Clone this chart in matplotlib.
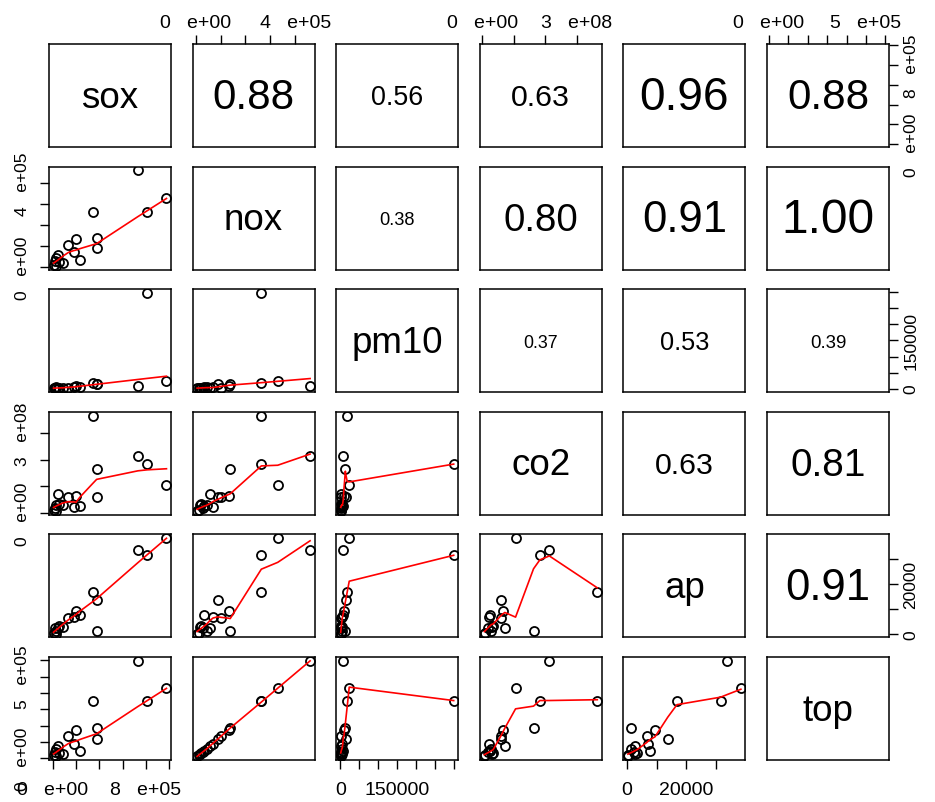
import numpy as np
import matplotlib
matplotlib.use('Agg')
import matplotlib.pyplot as plt

plt.rcParams['font.family'] = ['Liberation Sans', 'DejaVu Sans']

names = ['sox', 'nox', 'pm10', 'co2', 'ap', 'top']

sox = [730000, 975000, 810000, 342000, 377000, 377000, 200000, 135000, 180000, 233000, 92000, 43000,
       8000, 20000, 25000, 30000, 55000]
nox = [460000, 330000, 264000, 264000, 139000, 89000, 133000, 103000, 70000, 35000, 19000, 59000,
       12000, 30000, 45000, 6000, 22000]
pm10 = [7500, 23000, 298000, 17700, 12800, 13500, 9000, 2500, 4000, 5500, 3000, 1200,
        800, 1500, 3500, 600, 2500]
co2 = [2.13e8, 1.06e8, 1.83e8, 3.65e8, 1.63e8, 0.59e8, 0.65e8, 0.60e8, 0.21e8, 0.25e8, 0.30e8, 0.72e8,
       0.09e8, 0.18e8, 0.28e8, 0.07e8, 0.35e8]
ap = [33500, 38300, 31500, 16800, 1200, 13700, 9400, 6700, 6900, 7600, 2800, 2700,
      400, 2500, 1500, 300, 3400]
top = [596000, 428000, 353000, 353000, 186000, 120000, 176000, 135000, 86000, 45000, 27000, 76000,
       20000, 40000, 58000, 13000, 30000]

# correlation text of the upper panels, row by row
cor_text = [
    ['0.88', '0.56', '0.63', '0.96', '0.88'],
    ['0.38', '0.80', '0.91', '1.00'],
    ['0.37', '0.53', '0.39'],
    ['0.63', '0.81'],
    ['0.91'],
]

# axis ticks and the labels R kept
tick_vals = {
    'sox': [0, 2e5, 4e5, 6e5, 8e5, 1e6],
    'nox': [0, 1e5, 2e5, 3e5, 4e5],
    'pm10': [0, 50000, 100000, 150000, 200000, 250000, 300000],
    'co2': [0, 1e8, 2e8, 3e8],
    'ap': [0, 10000, 20000, 30000],
    'top': [0, 1e5, 2e5, 3e5, 4e5, 5e5, 6e5],
}
tick_text = {
    'sox': ['0   e+00', '', '', '', '8   e+05', ''],
    'nox': ['0   e+00', '', '', '', '4   e+05'],
    'pm10': ['0', '', '', '150000', '', '', ''],
    'co2': ['0   e+00', '', '', '3   e+08'],
    'ap': ['0', '', '20000', ''],
    'top': ['0   e+00', '', '', '', '', '5   e+05', ''],
}

data = {'sox': sox, 'nox': nox, 'pm10': pm10, 'co2': co2, 'ap': ap, 'top': top}


def lowess(x, y, f=2/3, iters=3):
    # same steps as R's clowess, without the delta shortcut
    order = np.argsort(x, kind='stable')
    x = np.asarray(x, float)[order]
    y = np.asarray(y, float)[order]
    n = len(x)
    ns = max(min(int(f * n + 1e-7), n), 2)
    rng = x[-1] - x[0]
    rw = np.ones(n)
    ys = np.zeros(n)
    for it in range(iters + 1):
        nleft, nright = 0, ns - 1
        for i in range(n):
            while nright < n - 1 and x[i] - x[nleft] > x[nright + 1] - x[i]:
                nleft += 1
                nright += 1
            h = max(x[i] - x[nleft], x[nright] - x[i])
            h9, h1 = 0.999 * h, 0.001 * h
            w = np.zeros(n)
            for j in range(n):
                r = abs(x[j] - x[i])
                if r <= h9:
                    if r <= h1:
                        w[j] = rw[j]
                    else:
                        w[j] = rw[j] * (1 - (r / h) ** 3) ** 3
            if w.sum() <= 0:
                ys[i] = y[i]
                continue
            w = w / w.sum()
            if h > 0:
                a = (w * x).sum()
                b = x[i] - a
                c = (w * (x - a) ** 2).sum()
                if np.sqrt(c) > 0.001 * rng:
                    b = b / c
                    w = w * (b * (x - a) + 1)
            ys[i] = (w * y).sum()
        if it == iters:
            break
        res = np.abs(y - ys)
        cmad = 6 * np.median(res)
        if cmad < 1e-7 * res.mean():
            break
        rw = np.where(res <= 0.001 * cmad, 1.0,
                      np.where(res > 0.999 * cmad, 0.0, (1 - (res / cmad) ** 2) ** 2))
    return x, ys


def limits(v):
    v = np.asarray(v, float)
    d = v.max() - v.min()
    return v.min() - 0.04 * d, v.max() + 0.04 * d


W, H = 935, 803
fig = plt.figure(figsize=(W / 100, H / 100), dpi=100)

nv = len(names)
for r in range(nv):
    for c in range(nv):
        left = 49 + c * 143.6
        topp = 45 + r * 122.6
        ax = fig.add_axes([left / W, 1 - (topp + 103) / H, 122 / W, 103 / H])
        xv, yv = names[c], names[r]
        ax.set_xlim(*limits(data[xv]))
        ax.set_ylim(*limits(data[yv]))
        for s in ax.spines.values():
            s.set_linewidth(1.1)
        ax.set_xticks([])
        ax.set_yticks([])

        if r == c:
            ax.text(0.5, 0.485, names[r], transform=ax.transAxes, ha='center', va='center',
                    fontsize=26.5)
        elif r < c:
            txt = cor_text[r][c - r - 1]
            ax.text(0.5, 0.485, txt, transform=ax.transAxes, ha='center', va='center',
                    fontsize=34.5 * float(txt))
        else:
            ax.plot(data[xv], data[yv], 'o', mfc='none', mec='black', ms=6.5, mew=1.3)
            lx, ly = lowess(data[xv], data[yv])
            ax.plot(lx, ly, color='red', lw=1.2)

        ax.tick_params(length=6.5, width=1, direction='out')
        if r == 0 and c % 2 == 1:
            ax.xaxis.tick_top()
            ax.set_xticks(tick_vals[xv])
            ax.set_xticklabels(tick_text[xv], fontsize=14)
            ax.tick_params(axis='x', pad=3)
        if r == nv - 1 and c % 2 == 0:
            ax.set_xticks(tick_vals[xv])
            ax.set_xticklabels(tick_text[xv], fontsize=14)
            ax.tick_params(axis='x', pad=8.5)
        if c == 0 and r % 2 == 1:
            ax.set_yticks(tick_vals[yv])
            ax.set_yticklabels(tick_text[yv], fontsize=12.5, rotation=90, va='center')
            ax.tick_params(axis='y', pad=7)
        if c == nv - 1 and r % 2 == 0:
            ax.yaxis.tick_right()
            ax.set_yticks(tick_vals[yv])
            ax.set_yticklabels(tick_text[yv], fontsize=12.5, rotation=90, va='center')
            ax.tick_params(axis='y', pad=4)

fig.savefig('out.png', dpi=100)
